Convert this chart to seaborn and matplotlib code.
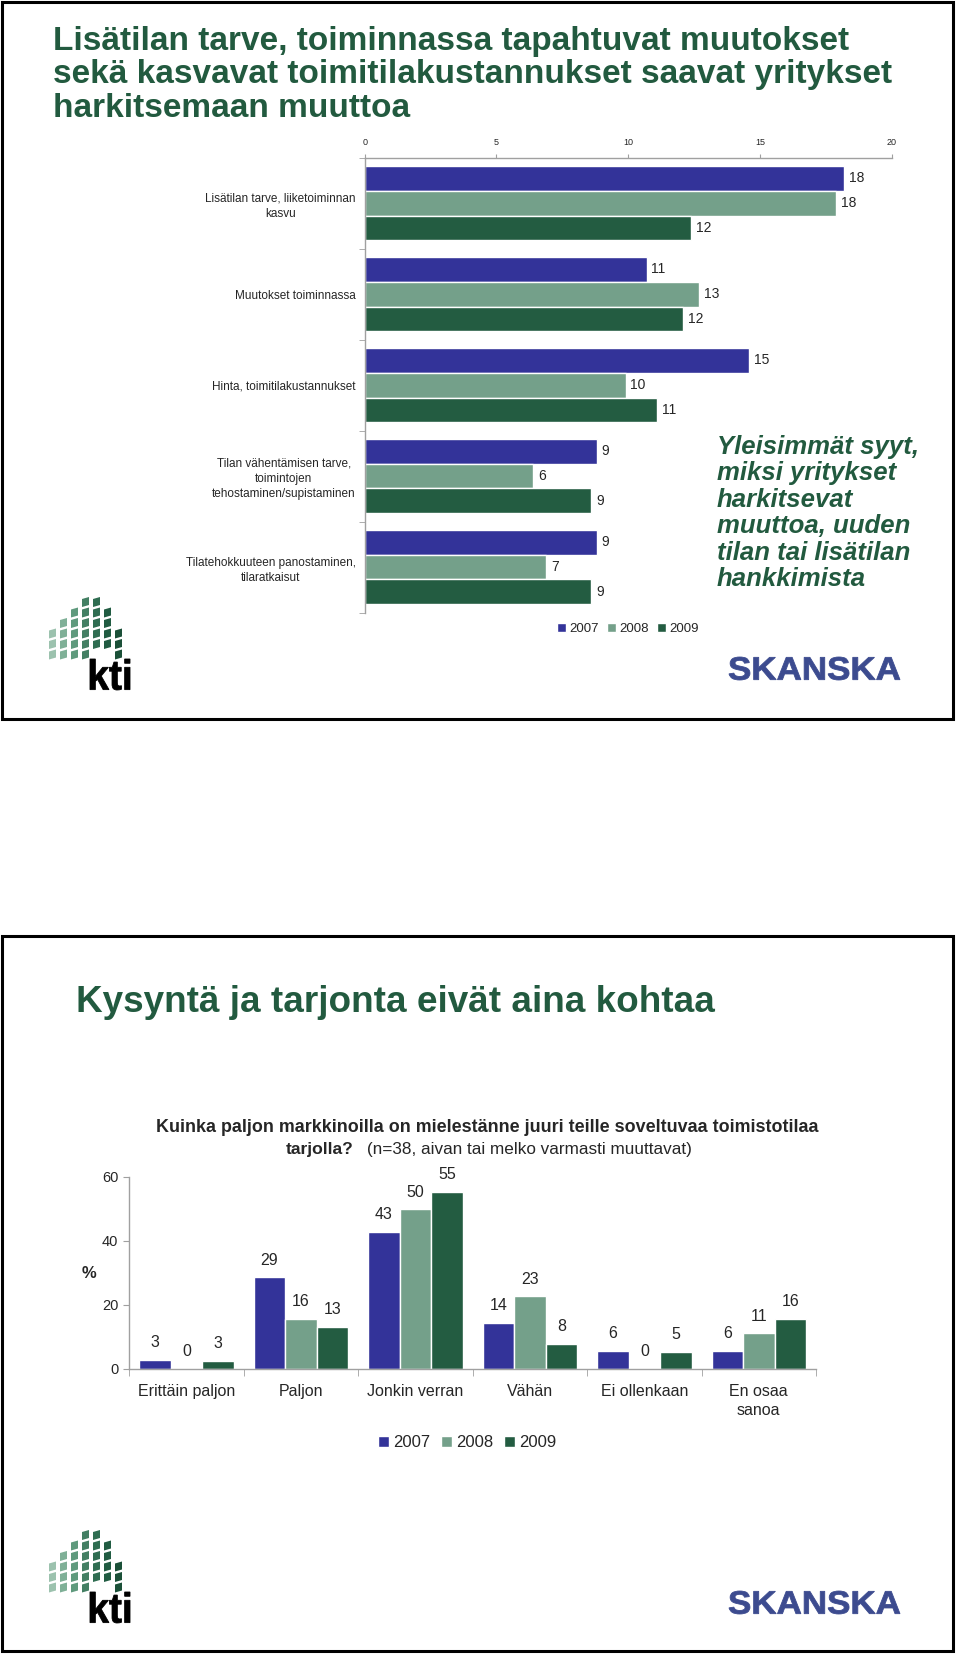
import numpy as np
import pandas as pd
import matplotlib
matplotlib.use("Agg")
import matplotlib.pyplot as plt
import seaborn as sns
from matplotlib.patches import Rectangle, PathPatch, Polygon
from matplotlib.textpath import TextPath
from matplotlib.font_manager import FontProperties
from matplotlib.transforms import Affine2D

# -------- Data --------
years = ["2007", "2008", "2009"]

reasons = [
    "Lisätilan tarve, liiketoiminnan\nkasvu",
    "Muutokset toiminnassa",
    "Hinta, toimitilakustannukset",
    "Tilan vähentämisen tarve,\ntoimintojen\ntehostaminen/supistaminen",
    "Tilatehokkuuteen panostaminen,\ntilaratkaisut",
]
reasons_2007 = [18.2, 10.7, 14.6, 8.8, 8.8]
reasons_2008 = [17.9, 12.7, 9.9, 6.4, 6.9]
reasons_2009 = [12.4, 12.1, 11.1, 8.6, 8.6]
reason_ticks = [0, 5, 10, 15, 20]

supply_cats = ["Erittäin paljon", "Paljon", "Jonkin verran", "Vähän",
               "Ei ollenkaan", "En osaa\nsanoa"]
supply_2007 = [2.8, 28.6, 42.9, 14.4, 5.6, 5.6]
supply_2008 = [0.0, 15.6, 49.9, 22.7, 0.0, 11.1]
supply_2009 = [2.6, 13.1, 55.3, 7.8, 5.3, 15.6]
supply_ticks = [0, 20, 40, 60]

TITLE_1 = "Lisätilan tarve, toiminnassa tapahtuvat muutokset\nsekä kasvavat toimitilakustannukset saavat yritykset\nharkitsemaan muuttoa"
SIDE_NOTE = "Yleisimmät syyt,\nmiksi yritykset\nharkitsevat\nmuuttoa, uuden\ntilan tai lisätilan\nhankkimista"
TITLE_2 = "Kysyntä ja tarjonta eivät aina kohtaa"
Q_LINE1 = "Kuinka paljon markkinoilla on mielestänne juuri teille soveltuvaa toimistotilaa"
Q_BOLD2 = "tarjolla?"
Q_REG2 = "(n=38, aivan tai melko varmasti muuttavat)"

# -------- Style --------
PALETTE = {"2007": "#333399", "2008": "#74a08a", "2009": "#235c41"}
GREEN = "#225a3f"
AXIS_GREY = "#a0a0a0"
SKANSKA_BLUE = "#3c4b8f"

sns.set_style("white")
plt.rcParams["font.family"] = ["Liberation Sans", "DejaVu Sans"]

W, H = 960, 1654
fig = plt.figure(figsize=(W / 100, H / 100), dpi=100)

# pixel-space canvas for frames, titles and logos
bg = fig.add_axes([0, 0, 1, 1])
bg.set_xlim(0, W)
bg.set_ylim(H, 0)
bg.axis("off")


def fit_text(ax, s, box, color, weight="bold"):
    # squeeze a word into a pixel box (used for the logos)
    x0, y0, x1, y1 = box
    tp = TextPath((0, 0), s, size=10, prop=FontProperties(family="Liberation Sans", weight=weight))
    ext = tp.get_extents()
    tr = (Affine2D().translate(-ext.x0, -ext.y0)
          .scale((x1 - x0) / ext.width, -(y1 - y0) / ext.height)
          .translate(x0, y1))
    ax.add_patch(PathPatch(tr.transform_path(tp), color=color, lw=0.6, ec=color))


def draw_kti(ax, x0, y0):
    shades = ["#9cc2ae", "#7fb097", "#5f9a7d", "#437f63", "#2f6d51", "#215c42", "#1b5038"]
    first_row = [3, 2, 1, 0, 0, 1, 3]
    last_row = [6, 6, 6, 6, 5, 5, 6]
    for c in range(7):
        for r in range(first_row[c], last_row[c]):
            cx = x0 + c * 11
            cy = y0 + r * 10.5
            ax.add_patch(Polygon([(cx, cy + 2), (cx + 7, cy), (cx + 7, cy + 8), (cx, cy + 10)],
                                 closed=True, color=shades[c], lw=0))
    fit_text(ax, "kti", (x0 + 41, y0 + 62, x0 + 81, y0 + 93), "black")


# frames
bg.add_patch(Rectangle((2, 2), 951, 717, fill=False, lw=2.2, ec="black"))
bg.add_patch(Rectangle((2, 936), 951, 715, fill=False, lw=2.2, ec="black"))

# ---------- Top panel ----------
bg.text(53, 26, TITLE_1, fontsize=24, fontweight="bold", color=GREEN,
        va="top", ha="left", linespacing=1.1)
draw_kti(bg, 49, 597)
fit_text(bg, "SKANSKA", (729, 657, 900, 680), SKANSKA_BLUE)

df1 = pd.DataFrame({
    "syy": reasons * 3,
    "osuus": reasons_2007 + reasons_2008 + reasons_2009,
    "vuosi": np.repeat(years, len(reasons)),
})

ax1 = fig.add_axes([364.7 / W, 1 - 612.5 / H, 526.9 / W, 454.8 / H])
ax1.set_facecolor("none")
sns.barplot(data=df1, y="syy", x="osuus", hue="vuosi", order=reasons, hue_order=years,
            palette=PALETTE, orient="h", width=0.82, saturation=1, errorbar=None, ax=ax1)
for cont in ax1.containers:
    ax1.bar_label(cont, fmt="%.0f", padding=3.5, fontsize=10)

ax1.set_xlim(0, 20)
ax1.set_ylim(len(reasons) - 0.5, -0.5)
ax1.set_xticks(reason_ticks)
ax1.xaxis.tick_top()
ax1.tick_params(axis="x", labelsize=6.5, length=3, pad=5, color=AXIS_GREY, top=True, bottom=False)
ax1.tick_params(axis="y", which="major", length=0, pad=6.5, labelsize=8.5)
ax1.set_yticks(np.arange(-0.5, len(reasons)), minor=True)
ax1.tick_params(axis="y", which="minor", length=4, color=AXIS_GREY, left=True)
plt.setp(ax1.get_yticklabels(), multialignment="center", linespacing=1.35)
ax1.set_xlabel("")
ax1.set_ylabel("")
for side in ["right", "bottom"]:
    ax1.spines[side].set_visible(False)
for side in ["top", "left"]:
    ax1.spines[side].set_color(AXIS_GREY)
    ax1.spines[side].set_linewidth(1)
sns.move_legend(ax1, "center", bbox_to_anchor=(0.5, -0.036), ncol=3, title=None,
                frameon=False, fontsize=9.5, handlelength=0.7, handleheight=0.7,
                handletextpad=0.25, columnspacing=0.6)

fig.text(717 / W, 1 - 435 / H, SIDE_NOTE, fontsize=18.5, fontweight="bold", fontstyle="italic",
         color=GREEN, va="top", ha="left", linespacing=1.13)

# ---------- Bottom panel ----------
bg.text(76, 985, TITLE_2, fontsize=26.6, fontweight="bold", color=GREEN, va="top", ha="left")
bg.text(487, 1132, Q_LINE1, fontsize=12.85, fontweight="bold", ha="center", va="baseline")
bg.text(286, 1154, Q_BOLD2, fontsize=12.6, fontweight="bold", ha="left", va="baseline")
bg.text(367, 1154, Q_REG2, fontsize=12.3, ha="left", va="baseline")
draw_kti(bg, 49, 1530)
fit_text(bg, "SKANSKA", (729, 1591, 900, 1614), SKANSKA_BLUE)

df2 = pd.DataFrame({
    "vastaus": supply_cats * 3,
    "osuus": supply_2007 + supply_2008 + supply_2009,
    "vuosi": np.repeat(years, len(supply_cats)),
})

ax2 = fig.add_axes([129.3 / W, 1 - 1369 / H, 686.7 / W, 192 / H])
ax2.set_facecolor("none")
sns.barplot(data=df2, x="vastaus", y="osuus", hue="vuosi", order=supply_cats, hue_order=years,
            palette=PALETTE, width=0.825, saturation=1, errorbar=None, ax=ax2)
for cont in ax2.containers:
    ax2.bar_label(cont, fmt="%.0f", padding=7, fontsize=11.5)

ax2.set_ylim(0, 60)
ax2.set_xlim(-0.5, len(supply_cats) - 0.5)
ax2.set_yticks(supply_ticks)
ax2.tick_params(axis="y", labelsize=10.5, length=4, pad=4, color=AXIS_GREY, left=True)
ax2.tick_params(axis="x", which="major", length=0, pad=11, labelsize=11.5)
ax2.set_xticks(np.arange(-0.5, len(supply_cats)), minor=True)
ax2.tick_params(axis="x", which="minor", length=5, color=AXIS_GREY, bottom=True)
plt.setp(ax2.get_xticklabels(), multialignment="center", linespacing=1.3)
ax2.set_xlabel("")
ax2.set_ylabel("%", rotation=0, fontsize=12, fontweight="bold", va="center", ha="center")
ax2.yaxis.set_label_coords(-0.058, 0.495)
for side in ["right", "top"]:
    ax2.spines[side].set_visible(False)
for side in ["left", "bottom"]:
    ax2.spines[side].set_color(AXIS_GREY)
    ax2.spines[side].set_linewidth(1)
sns.move_legend(ax2, "center", bbox_to_anchor=(0.492, -0.385), ncol=3, title=None,
                frameon=False, fontsize=12, handlelength=0.7, handleheight=0.7,
                handletextpad=0.25, columnspacing=0.6)

fig.savefig("out.png", dpi=100)
